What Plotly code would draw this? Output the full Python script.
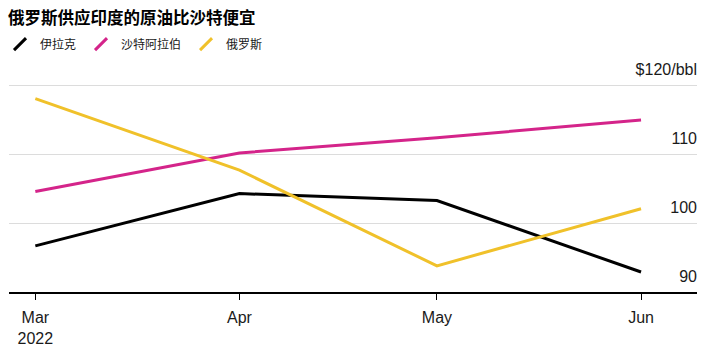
import plotly.graph_objects as go

title = "俄罗斯供应印度的原油比沙特便宜"
months = ["2022-03-01", "2022-04-01", "2022-05-01", "2022-06-01"]
month_labels = ["Mar<br>2022", "Apr", "May", "Jun"]
series_names = ["伊拉克", "沙特阿拉伯", "俄罗斯"]
iraq = [96.7, 104.3, 103.3, 92.9]
saudi = [104.6, 110.2, 112.4, 115.0]
russia = [118.1, 107.7, 93.8, 102.1]
colors = ["#000000", "#d4248a", "#f0c12a"]
y_ticks = [90, 100, 110, 120]
y_tick_labels = ["90", "100", "110", "$120/bbl"]

FONT = "Liberation Sans, Arial, Noto Sans CJK SC, sans-serif"
X_RANGE = ["2022-02-25 00:00", "2022-06-09 12:00"]
Y_RANGE = [90, 124]

fig = go.Figure()
for name, vals, col in zip(series_names, [iraq, saudi, russia], colors):
    fig.add_trace(go.Scatter(x=months, y=vals, mode="lines", name=name,
                             line=dict(color=col, width=3), showlegend=False,
                             hoverinfo="skip"))
    # legend entry with a slanted stroke, on the overlay axes (no data)
    fig.add_trace(go.Scatter(x=[None], y=[None], mode="markers", name=name,
                             xaxis="x2", yaxis="y2",
                             marker=dict(symbol="line-ne", size=12,
                                         line=dict(color=col, width=3)),
                             showlegend=True, hoverinfo="skip"))

fig.update_layout(
    width=727, height=359,
    margin=dict(l=9, r=30, t=58, b=67, autoexpand=False),
    paper_bgcolor="white", plot_bgcolor="white",
    font=dict(family=FONT, color="#1a1a1a", size=16),
    title=dict(text="<b>" + title + "</b>", x=0.011, xanchor="left",
               y=0.95, yanchor="middle",
               font=dict(size=16.5, color="#000000", family="Noto Sans CJK SC, sans-serif")),
    legend=dict(orientation="h", xref="container", x=0.0, xanchor="left",
                yref="container", y=0.877, yanchor="middle",
                font=dict(size=12, family="Noto Sans CJK SC, sans-serif", color="#1a1a1a"),
                itemwidth=30, bgcolor="rgba(0,0,0,0)"),
    xaxis=dict(
        type="date", range=X_RANGE,
        tickvals=months, ticktext=month_labels,
        showgrid=False, zeroline=False,
        showline=True, linecolor="#000000", linewidth=1.5,
        ticks="outside", ticklen=6, tickcolor="#000000", tickwidth=1,
        ticklabelstandoff=4, automargin=False,
        tickfont=dict(size=16, color="#1a1a1a"),
    ),
    yaxis=dict(
        range=Y_RANGE, side="right",
        tickvals=y_ticks, showticklabels=False,
        ticks="", automargin=False,
        showgrid=True, gridcolor="#dcdcdc", gridwidth=1,
        zeroline=False, showline=False,
    ),
    xaxis2=dict(
        type="date", range=X_RANGE, overlaying="x", anchor="y2",
        showticklabels=False, ticks="", showline=False,
        showgrid=False, zeroline=False, automargin=False,
    ),
    yaxis2=dict(
        range=Y_RANGE, overlaying="y", anchor="x2", side="right",
        tickvals=y_ticks, ticktext=y_tick_labels,
        ticklabelposition="inside",
        ticklabelshift=-16,
        ticklabelstandoff=-3,
        ticks="", automargin=False,
        showgrid=False, zeroline=False, showline=False,
        tickfont=dict(size=16, color="#1a1a1a"),
    ),
)

fig.write_html("out.html")
